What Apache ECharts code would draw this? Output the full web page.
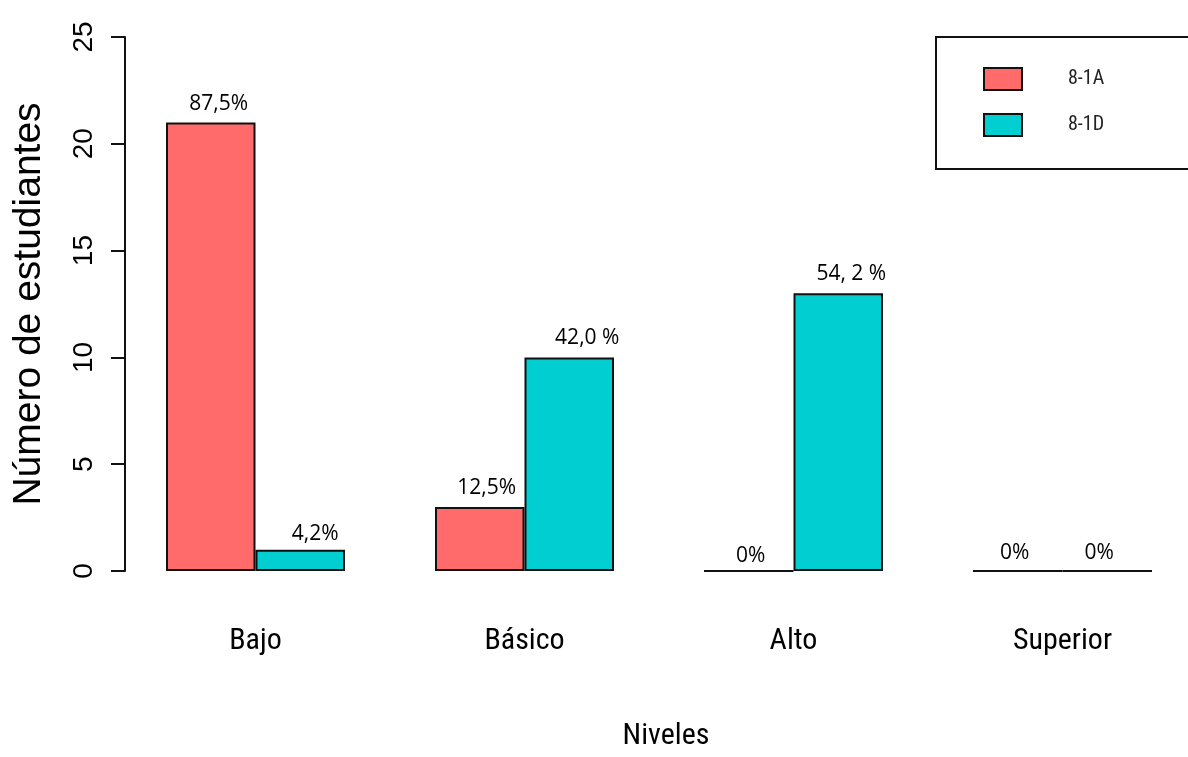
<!DOCTYPE html>
<html>
<head>
<meta charset="utf-8">
<script src="https://cdn.jsdelivr.net/npm/echarts@6/dist/echarts.min.js"></script>
<style>
html,body{margin:0;padding:0;background:#fff;overflow:hidden;}
#chart{width:1210px;height:757px;}
</style>
</head>
<body>
<div id="chart"></div>
<script>
// ---- data ----
const categories = ['Bajo', 'Básico', 'Alto', 'Superior'];
const seriesNames = ['8-1A', '8-1D'];
const values8A = [21, 3, 0, 0];
const values8D = [1, 10, 13, 0];
const labels8A = ['87,5%', '12,5%', '0%', '0%'];
const labels8D = ['4,2%', '42,0 %', '54, 2 %', '0%'];
const yTicks = [0, 5, 10, 15, 20, 25];

// ---- styling (label nudges, as placed in the original) ----
const nudgeA = [[8, -3], [7, -3], [2, 2], [-3, -1]];
const nudgeD = [[15, 0], [18, -4], [13, -4], [-8, -1]];

const narrow = '"Liberation Sans Narrow", "Roboto Condensed", "DejaVu Sans Condensed", "Liberation Sans", sans-serif';
const colors = ['#FF6A6A', '#00CED1'];

function build(values, labels, nudges) {
  return values.map((v, i) => ({
    value: v,
    label: { formatter: labels[i], offset: nudges[i] }
  }));
}

const chart = echarts.init(document.getElementById('chart'), null, { renderer: 'canvas' });
const barLabel = {
  show: true, position: 'top', distance: 5,
  fontFamily: '"Open Sans", sans-serif', fontSize: 21, color: '#000'
};
const option = {
  backgroundColor: '#fff',
  animation: false,
  grid: { left: 121, top: 37, width: 1076, height: 534, containLabel: false },
  legend: {
    orient: 'vertical', left: 936, top: 37,
    data: seriesNames,
    icon: 'rect',
    itemWidth: 38, itemHeight: 22, itemGap: 22,
    padding: [30, 100, 32, 47],
    borderColor: '#111', borderWidth: 2,
    textStyle: { fontFamily: narrow, fontSize: 20, color: '#222', padding: [0, 0, 0, 41] }
  },
  xAxis: {
    type: 'category', data: categories,
    axisLine: { show: false }, axisTick: { show: false },
    axisLabel: { fontFamily: narrow, fontSize: 30, color: '#000', margin: 55 },
    name: 'Niveles', nameLocation: 'middle', nameGap: 150,
    nameTextStyle: { fontFamily: narrow, fontSize: 30, color: '#000', padding: [0, 0, 0, 14] }
  },
  yAxis: {
    type: 'value', min: 0, max: 25, interval: 5, offset: -4,
    splitLine: { show: false },
    axisLine: { show: true, lineStyle: { color: '#111', width: 2 } },
    axisTick: { show: true, length: 14, lineStyle: { color: '#111', width: 2 } },
    axisLabel: {
      rotate: 90, margin: 27, fontFamily: '"Liberation Sans", Arial, sans-serif', fontSize: 28, color: '#000',
      formatter: v => (yTicks.indexOf(v) >= 0 ? String(v) : '')
    },
    name: 'Número de estudiantes', nameLocation: 'middle', nameRotate: 90, nameGap: 76,
    nameTextStyle: { fontFamily: '"Liberation Sans", Arial, sans-serif', fontSize: 39, color: '#000' }
  },
  series: [
    {
      name: seriesNames[0], type: 'bar', barWidth: 89.5, barGap: '0%',
      itemStyle: { color: colors[0], borderColor: '#111', borderWidth: 2 },
      label: barLabel,
      data: build(values8A, labels8A, nudgeA)
    },
    {
      name: seriesNames[1], type: 'bar', barWidth: 89.5, barGap: '0%',
      itemStyle: { color: colors[1], borderColor: '#111', borderWidth: 2 },
      label: barLabel,
      data: build(values8D, labels8D, nudgeD)
    }
  ]
};
chart.setOption(option);
</script>
</body>
</html>
